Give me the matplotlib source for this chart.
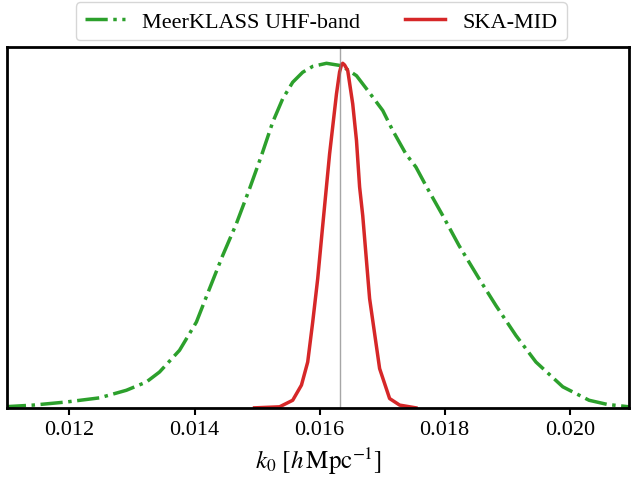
import matplotlib
matplotlib.use('Agg')
import matplotlib.pyplot as plt
import numpy as np

plt.rcParams['font.family'] = ['Liberation Serif', 'DejaVu Serif']
plt.rcParams['mathtext.fontset'] = 'stix'

# MeerKLASS UHF-band posterior (normalised)
k_meer = np.array([0.01095, 0.01142, 0.01195, 0.01248, 0.01291, 0.01323, 0.01344, 0.01376,
                   0.01403, 0.01424, 0.01445, 0.01467, 0.01488, 0.01507, 0.01525, 0.01541,
                   0.01557, 0.01573, 0.01589, 0.01611, 0.01635, 0.01659, 0.01680, 0.01701,
                   0.01717, 0.01738, 0.01754, 0.01770, 0.01797, 0.01823, 0.01855, 0.01882,
                   0.01914, 0.01946, 0.01989, 0.02031, 0.02060, 0.02100])
p_meer = np.array([0.003, 0.008, 0.017, 0.029, 0.051, 0.075, 0.104, 0.167,
                   0.249, 0.346, 0.442, 0.535, 0.636, 0.732, 0.829, 0.897,
                   0.945, 0.974, 0.991, 1.000, 0.993, 0.964, 0.914, 0.863,
                   0.805, 0.737, 0.699, 0.645, 0.558, 0.471, 0.375, 0.297,
                   0.210, 0.133, 0.061, 0.022, 0.010, 0.002])

# SKA-MID posterior (normalised)
k_ska = np.array([0.01496, 0.01536, 0.01557, 0.01571, 0.01581, 0.01589, 0.01597, 0.01604,
                  0.01616, 0.01627, 0.01632, 0.01635, 0.01637, 0.01640, 0.01645, 0.01653,
                  0.01659, 0.01664, 0.01669, 0.01680, 0.01696, 0.01712, 0.01728, 0.01754])
p_ska = np.array([0.0, 0.003, 0.022, 0.066, 0.133, 0.249, 0.375, 0.510,
                  0.737, 0.911, 0.975, 0.995, 1.0, 0.995, 0.979, 0.882,
                  0.776, 0.641, 0.558, 0.317, 0.114, 0.027, 0.008, 0.0])

k_fid = 0.01633

fig = plt.figure(figsize=(6.31, 4.81), dpi=100)
ax = fig.add_axes([0.011, 0.15, 0.986, 0.75])

ax.plot(k_meer, p_meer, color='tab:green', ls='-.', lw=2.5, label='MeerKLASS UHF-band')
ax.plot(k_ska, p_ska, color='tab:red', ls='-', lw=2.5, label='SKA-MID')
ax.axvline(k_fid, color='gray', lw=1, alpha=0.7)

ax.set_xlim(0.011, 0.02095)
ax.set_ylim(0, 1.047)
ax.set_yticks([])
ax.set_xticks([0.012, 0.014, 0.016, 0.018, 0.020])
ax.set_xticklabels(['0.012', '0.014', '0.016', '0.018', '0.020'])
ax.tick_params(axis='x', labelsize=16, width=1.5, length=5)
ax.set_xlabel(r'$k_0\ [h\,\mathrm{Mpc}^{-1}]$', fontsize=18, labelpad=4)
for s in ax.spines.values():
    s.set_linewidth(2)

ax.legend(loc='lower center', bbox_to_anchor=(0.505, 1.0), ncol=2, fontsize=16,
          handlelength=1.8, columnspacing=2.0, borderaxespad=0.3)

fig.savefig('out.png', dpi=100)
